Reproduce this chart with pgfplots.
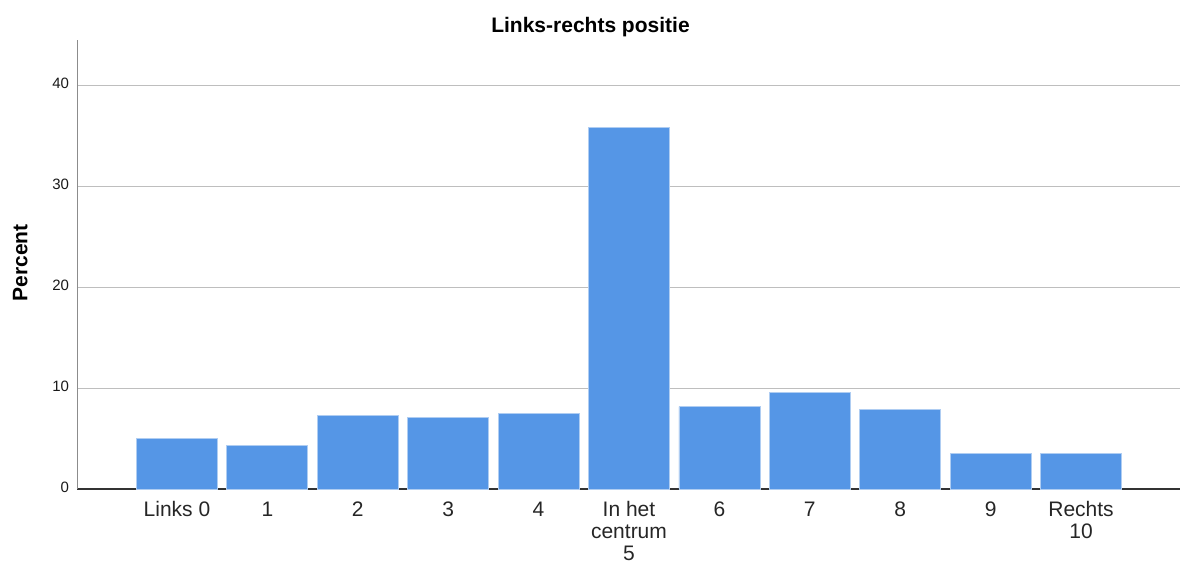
\documentclass[border=0pt]{standalone}
\usepackage{fontspec}
\setmainfont{Liberation Sans}
\usepackage{pgfplots}
\pgfplotsset{compat=1.18}
\definecolor{barblue}{RGB}{85,150,230}
\definecolor{baredge}{RGB}{175,205,242}
\definecolor{gridgray}{RGB}{190,190,190}
\definecolor{yaxgray}{RGB}{140,140,140}
\begin{document}
\begin{tikzpicture}
\useasboundingbox (-77.5pt,-77pt) rectangle (1103.5pt,489pt);
\begin{axis}[
  at={(0pt,0pt)}, anchor=south west,
  scale only axis, width=1103pt, height=449pt,
  xmin=-1.1, xmax=11.1, ymin=0, ymax=44.5,
  axis lines*=left,
  x axis line style={draw=black!80, line width=1.2pt},
  y axis line style={draw=yaxgray, line width=1.5pt},
  xtick={0,1,2,3,4,5,6,7,8,9,10},
  xticklabels={Links 0,1,2,3,4,{In het\\centrum\\5},6,7,8,9,{Rechts\\10}},
  typeset ticklabels with strut,
  ytick={0,10,20,30,40},
  major tick length=0pt,
  ymajorgrids, grid style={draw=gridgray, line width=1pt},
  xticklabel style={font=\fontsize{21}{22}\selectfont, align=center, text=black!85, yshift=-9pt},
  yticklabel style={font=\fontsize{15}{15}\selectfont, text=black!90, xshift=-5pt},
  /pgf/number format/assume math mode=true,
  ybar, bar width=81pt, bar shift=0pt,
  clip=false,
]
\addplot[fill=barblue, draw=baredge, line width=0.8pt] coordinates {
  (0,5.0) (1,4.3) (2,7.28) (3,7.05) (4,7.52) (5,35.85) (6,8.17) (7,9.53) (8,7.85) (9,3.54) (10,3.54)
};
\end{axis}
\node[font=\bfseries\fontsize{21}{21}\selectfont, anchor=base] at (513pt,456pt) {Links-rechts positie};
\node[font=\bfseries\fontsize{21}{21}\selectfont, rotate=90, anchor=base] at (-50pt,226pt) {Percent};
\end{tikzpicture}
\end{document}
